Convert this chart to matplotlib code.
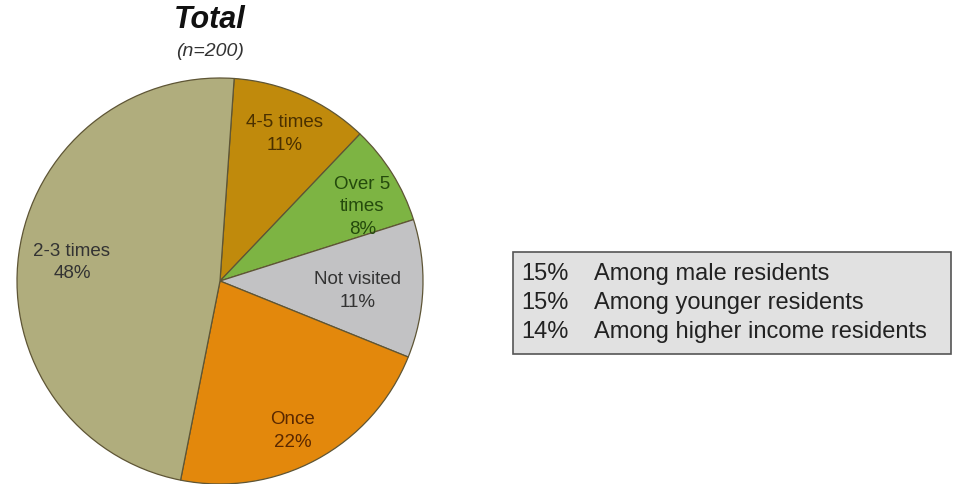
import numpy as np
import matplotlib
matplotlib.use("Agg")
import matplotlib.pyplot as plt
from matplotlib.patches import Rectangle

plt.rcParams['font.family'] = ['Liberation Sans', 'DejaVu Sans']

# Visit frequency shares (clockwise from the top)
categories = ["4-5 times", "Over 5\ntimes", "Not visited", "Once", "2-3 times"]
shares = [11, 8, 11, 22, 48]
colors = ["#C08A0C", "#7DB443", "#C2C2C4", "#E3880C", "#B0AD7D"]
label_colors = ["#4A3000", "#244A0C", "#333333", "#5A2800", "#333333"]
label_radius = [0.79, 0.79, 0.68, 0.82, 0.735]
label_turn = [0.0, -4.5, -2.0, -2.5, 0.5]   # degrees relative to wedge centre

# Callout box contents
callout_pct = ["15%", "15%", "14%"]
callout_text = ["Among male residents", "Among younger residents",
                "Among higher income residents"]

fig = plt.figure(figsize=(9.54, 4.84), dpi=100)

ax = fig.add_axes([17 / 954, 0, 406 / 954, 406 / 484])
wedges, _ = ax.pie(shares, colors=colors, startangle=86, counterclock=False,
                   wedgeprops=dict(edgecolor="#5E5535", linewidth=0.9))
ax.set_xlim(-1.0, 1.0)
ax.set_ylim(-1.0, 1.0)
ax.set_aspect("equal")
ax.axis("off")

for w, cat, val, r, dt, c in zip(wedges, categories, shares, label_radius,
                                 label_turn, label_colors):
    ang = np.deg2rad((w.theta1 + w.theta2) / 2 + dt)
    ax.text(r * np.cos(ang), r * np.sin(ang), f"{cat}\n{val}%",
            ha="center", va="center", fontsize=13.5, color=c, linespacing=1.45)

fig.text(210 / 954, 1 - 20 / 484, "Total", ha="center", va="center",
         fontsize=22, fontweight="bold", fontstyle="italic", color="#111111")
fig.text(210 / 954, 1 - 51 / 484, "(n=200)", ha="center", va="center",
         fontsize=14, fontstyle="italic", color="#333333")

# Highlight box on the right
box = Rectangle((513 / 954, 1 - 354 / 484), (951 - 513) / 954, (354 - 252) / 484,
                transform=fig.transFigure, facecolor="#E1E1E1",
                edgecolor="#555555", linewidth=1.2)
fig.patches.append(box)

for i, (p, t) in enumerate(zip(callout_pct, callout_text)):
    y = 1 - (280 + i * 29) / 484
    fig.text(521 / 954, y, p, ha="left", va="baseline", fontsize=17, color="#222222")
    fig.text(594 / 954, y, t, ha="left", va="baseline", fontsize=17, color="#222222")

fig.savefig("out.png", dpi=100, facecolor="white")
